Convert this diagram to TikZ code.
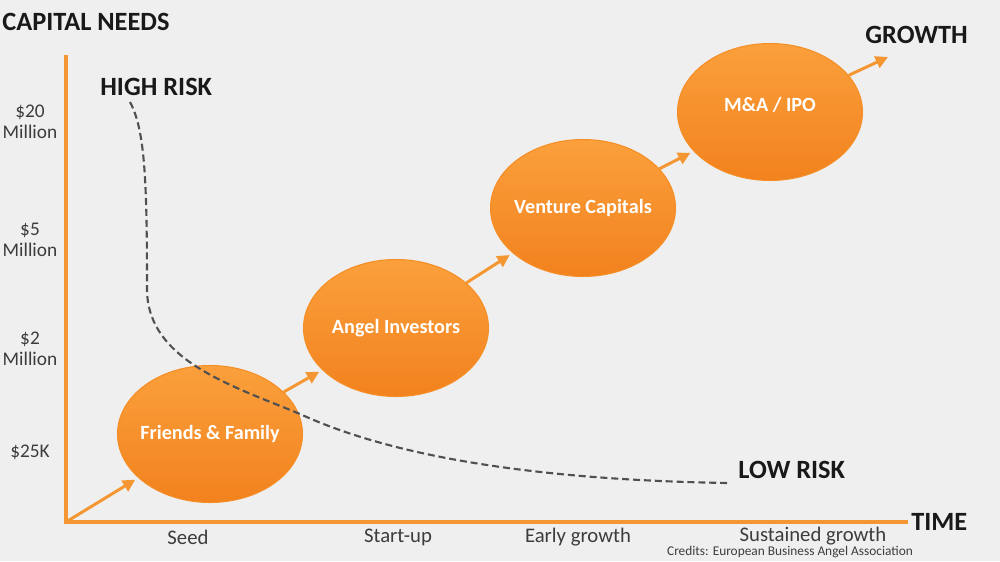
\documentclass[tikz,border=0pt]{standalone}
\usepackage{fontspec}
\setmainfont{Carlito}
\usetikzlibrary{shapes.geometric,arrows.meta}
\definecolor{bgc}{RGB}{239,239,239}
\definecolor{org}{RGB}{246,142,38}
\definecolor{orgtop}{RGB}{250,160,60}
\definecolor{orgbot}{RGB}{242,130,30}
\definecolor{axc}{RGB}{244,150,50}
\definecolor{txt}{RGB}{25,25,25}
\definecolor{lbl}{RGB}{60,60,60}
\definecolor{dsh}{RGB}{80,80,80}
\tikzset{
  stage/.style={ellipse, inner sep=0pt, minimum width=3.7cm, minimum height=2.74cm,
    top color=orgtop, bottom color=orgbot, draw=org, line width=0.6pt},
  stagetext/.style={text=white, inner sep=0pt, font=\bfseries\fontsize{11.5}{13}\selectfont},
  flow/.style={draw=axc, line width=1.7pt, -{Triangle[length=7pt,width=7pt]}, shorten >=2pt},
  axis/.style={draw=axc, line width=2pt},
  head/.style={text=txt, font=\bfseries\fontsize{15}{17}\selectfont, inner sep=0pt},
  ylab/.style={text=lbl, font=\fontsize{11}{12}\selectfont, align=center, inner sep=0pt},
  xlab/.style={text=lbl, font=\fontsize{11.8}{13}\selectfont, inner sep=0pt},
  risk/.style={draw=dsh, line width=1.2pt, dash pattern=on 4pt off 2.2pt}
}
\begin{document}
\begin{tikzpicture}[x=0.02cm,y=-0.02cm]
\fill[bgc] (0,0) rectangle (1000,561);
\useasboundingbox (0,0) rectangle (1000,561);
% axes
\coordinate (o) at (66,522);
\coordinate (ytop) at (66,55);
\coordinate (xend) at (908,522);
\draw[axis] (ytop) -- (o) -- (xend);
% headings
\node[head, anchor=west] (cap) at (2,22) {CAPITAL NEEDS};
\node[head, anchor=west] (hr) at (100,87) {HIGH RISK};
\node[head, anchor=west] (gr) at (865,35) {GROWTH};
\node[head, anchor=west] (lr) at (738,470) {LOW RISK};
\node[head, anchor=west] (tm) at (911,522) {TIME};
% y labels
\node[ylab] (y20) at (30,122) {\$20\\Million};
\node[ylab] (y5) at (30,240) {\$5\\Million};
\node[ylab] (y2) at (30,349) {\$2\\Million};
\node[ylab] (y25) at (30,452) {\$25K};
% x labels
\node[xlab] (xs) at (188,537) {Seed};
\node[xlab] (xsu) at (398,537) {Start-up};
\node[xlab] (xeg) at (578,537) {Early growth};
\node[xlab] (xsg) at (813,536) {Sustained growth};
\node[text=lbl, font=\fontsize{7.6}{8}\selectfont, inner sep=0pt] (cr) at (790,552.5) {Credits: European Business Angel Association};
% stages
\node[stage] (ff) at (210,434) {};
\node[stage] (ai) at (396,328) {};
\node[stage] (vc) at (583,208) {};
\node[stage] (ma) at (770,112) {};
\node[stagetext] (fft) at (ff.center) {Friends \& Family};
\node[stagetext] (ait) at (ai.center) {Angel Investors};
\node[stagetext] (vct) at (vc.center) {Venture Capitals};
\node[stagetext] (mat) at ([yshift=4pt]ma.center) {M\&A / IPO};
\coordinate (gend) at (888,57);
% flow arrows
\draw[flow] (o) -- (ff);
\draw[flow] (ff) -- (ai);
\draw[flow] (ai) -- (vc);
\draw[flow] (vc) -- (ma);
\draw[flow, shorten >=0pt] (ma) -- (gend);
% risk curve
\coordinate (rs) at (130,102);
\coordinate (re) at (727,483);
\draw[risk] (rs) .. controls (145,130) and (147,180) .. (147,290)
  .. controls (148,360) and (230,385) .. (300,414)
  .. controls (400,460) and (550,480) .. (re);
\end{tikzpicture}
\end{document}
